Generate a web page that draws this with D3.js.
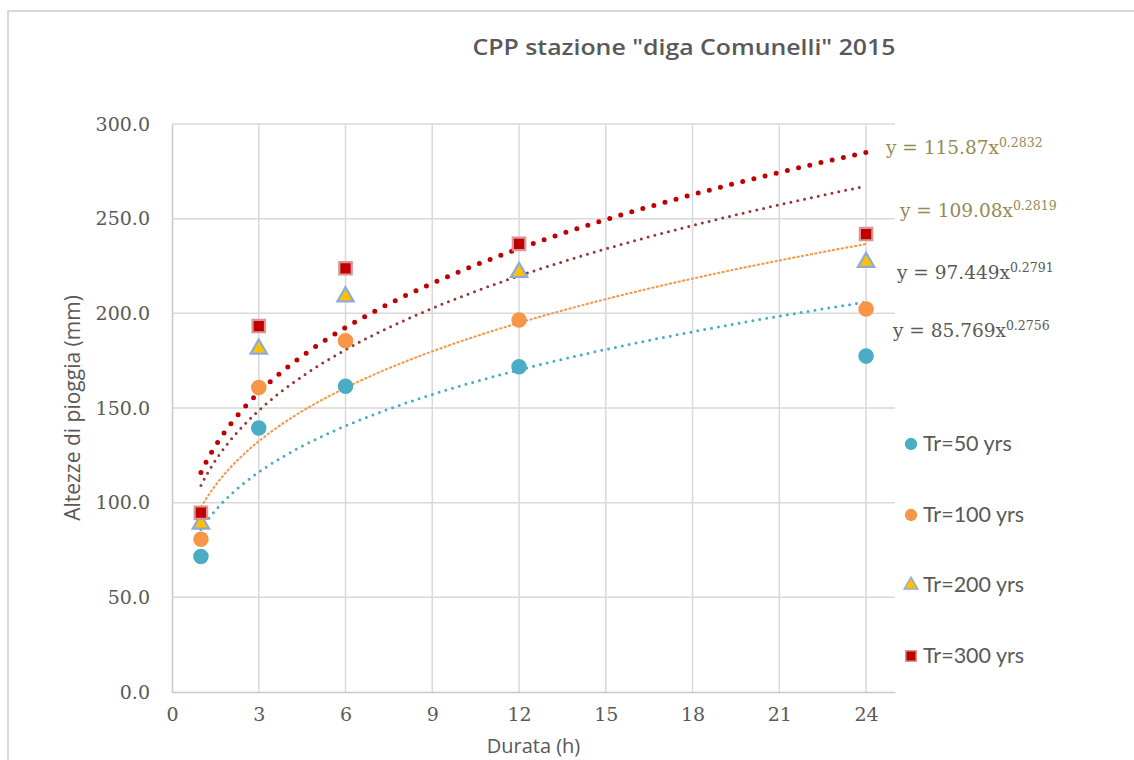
<!DOCTYPE html>
<html>
<head>
<meta charset="utf-8">
<script src="https://cdn.jsdelivr.net/npm/d3@7"></script>
<style>
  html, body { margin: 0; padding: 0; background: #fff; }
  svg { display: block; }
</style>
</head>
<body>
<script>
// durations (hours) and the rainfall heights per return period
var durations = [1, 3, 6, 12, 24];
var tr50  = [71.6, 139.4, 161.5, 171.8, 177.4];
var tr100 = [80.7, 160.8, 185.5, 196.5, 202.3];
var tr200 = [88.8, 181.2, 208.8, 221.7, 227.0];
var tr300 = [94.7, 193.3, 223.8, 236.7, 241.9];

// power trendlines y = a * x^b (from the labels in the chart)
var trendA = [85.769, 97.449, 109.08, 115.87];
var trendB = [0.2756, 0.2791, 0.2819, 0.2832];
var trendLabels = ["85.769", "97.449", "109.08", "115.87"];
var trendExp = ["0.2756", "0.2791", "0.2819", "0.2832"];

var seriesNames = ["Tr=50 yrs", "Tr=100 yrs", "Tr=200 yrs", "Tr=300 yrs"];
var xTicks = [0, 3, 6, 9, 12, 15, 18, 21, 24];
var yTicks = [0, 50, 100, 150, 200, 250, 300];

function run_d3() {
    var width = 1134, height = 760;
    var svg = d3.select("body").append("svg")
        .attr("width", width)
        .attr("height", height);

    // outer chart frame (only top/left visible)
    svg.append("rect")
        .attr("x", 8).attr("y", 11)
        .attr("width", 1140).attr("height", 780)
        .attr("fill", "#fff")
        .attr("stroke", "#d9d9d9")
        .attr("stroke-width", 2);

    var left = 172, right = 895, top = 124, bottom = 692;
    var x = d3.scaleLinear().domain([0, 25]).range([left, right]);
    var y = d3.scaleLinear().domain([0, 300]).range([bottom, top]);

    var grey = "#595959";
    var numFont = "'DejaVu Serif', 'Liberation Serif', serif";
    var sansFont = "'Open Sans', 'Noto Sans', sans-serif";

    // grid
    var grid = svg.append("g");
    grid.selectAll("line.h")
        .data(yTicks.slice(1))
        .enter().append("line")
        .attr("x1", left).attr("x2", right)
        .attr("y1", d => y(d)).attr("y2", d => y(d))
        .attr("stroke", "#d9d9d9").attr("stroke-width", 1.5);
    grid.selectAll("line.v")
        .data(xTicks.slice(1))
        .enter().append("line")
        .attr("x1", d => x(d)).attr("x2", d => x(d))
        .attr("y1", top).attr("y2", bottom)
        .attr("stroke", "#d9d9d9").attr("stroke-width", 1.5);

    // axes
    var yAxis = svg.append("g")
        .attr("transform", "translate(" + left + ",0)")
        .call(d3.axisLeft(y).tickValues(yTicks).tickSize(0).tickPadding(22)
            .tickFormat(d3.format(".1f")));
    var xAxis = svg.append("g")
        .attr("transform", "translate(0," + bottom + ")")
        .call(d3.axisBottom(x).tickValues(xTicks).tickSize(0).tickPadding(16));
    [xAxis, yAxis].forEach(function(a) {
        a.select(".domain").attr("stroke", "#c8c8c8").attr("stroke-width", 1.5);
        a.selectAll("text")
            .attr("fill", grey)
            .style("font-family", numFont)
            .style("font-size", "19px");
    });

    // titles
    svg.append("text")
        .attr("x", 684).attr("y", 55)
        .attr("text-anchor", "middle")
        .attr("fill", grey)
        .attr("textLength", 423)
        .attr("lengthAdjust", "spacingAndGlyphs")
        .style("font-family", sansFont)
        .style("font-weight", "600")
        .style("font-size", "22px")
        .text('CPP stazione "diga Comunelli" 2015');

    svg.append("text")
        .attr("transform", "translate(80," + ((top + bottom) / 2) + ") rotate(-90)")
        .attr("text-anchor", "middle")
        .attr("fill", grey)
        .style("font-family", sansFont)
        .style("font-size", "21px")
        .text("Altezze di pioggia (mm)");

    svg.append("text")
        .attr("x", (left + right) / 2).attr("y", 753)
        .attr("text-anchor", "middle")
        .attr("fill", grey)
        .style("font-family", sansFont)
        .style("font-size", "20px")
        .text("Durata (h)");

    // trendlines
    var trendStyle = [
        { color: "#4bacc6", w: 3, dash: "0 7", cap: "round" },
        { color: "#f79646", w: 2, dash: "3 1.5", cap: "butt" },
        { color: "#953735", w: 3, dash: "0 7", cap: "round" },
        { color: "#c00000", w: 5, dash: "0 11.5", cap: "round" }
    ];
    var line = d3.line().x(d => x(d[0])).y(d => y(d[1])).curve(d3.curveLinear);
    var xs = d3.range(1, 24.001, 0.1);
    trendA.forEach(function(a, i) {
        var pts = xs.map(v => [v, a * Math.pow(v, trendB[i])]);
        svg.append("path")
            .datum(pts)
            .attr("d", line)
            .attr("fill", "none")
            .attr("stroke", trendStyle[i].color)
            .attr("stroke-width", trendStyle[i].w)
            .attr("stroke-dasharray", trendStyle[i].dash)
            .attr("stroke-linecap", trendStyle[i].cap);
    });

    // markers
    var circle = d3.symbol().type(d3.symbolCircle).size(190);
    var tri = d3.symbol().type(d3.symbolTriangle).size(115);
    var sq = d3.symbol().type(d3.symbolSquare).size(155);
    var markers = [
        { vals: tr50, sym: circle, fill: "#4bacc6", stroke: "none" },
        { vals: tr100, sym: circle, fill: "#f79646", stroke: "none" },
        { vals: tr200, sym: tri, fill: "#ffc000", stroke: "#8eaadb" },
        { vals: tr300, sym: sq, fill: "#c00000", stroke: "#d99694" }
    ];
    markers.forEach(function(m) {
        svg.append("g").selectAll("path")
            .data(durations.map((d, i) => [d, m.vals[i]]))
            .enter().append("path")
            .attr("d", m.sym)
            .attr("transform", d => "translate(" + x(d[0]) + "," + y(d[1]) + ")")
            .attr("fill", m.fill)
            .attr("stroke", m.stroke)
            .attr("stroke-width", 2.2);
    });

    // equation labels
    var eqPos = [[893, 337, grey], [897, 279, grey], [900, 217, "#948a54"], [886, 154, "#948a54"]];
    trendLabels.forEach(function(t, i) {
        var txt = svg.append("text")
            .attr("x", eqPos[i][0]).attr("y", eqPos[i][1])
            .attr("fill", eqPos[i][2])
            .style("font-family", numFont)
            .style("font-size", "18.5px");
        txt.append("tspan").text("y = " + t + "x");
        txt.append("tspan")
            .attr("dy", -7)
            .style("font-size", "12.5px")
            .text(trendExp[i]);
    });

    // legend
    var legY = [444, 515, 585, 656];
    var legSym = [
        { sym: d3.symbol().type(d3.symbolCircle).size(120), fill: "#4bacc6", stroke: "none" },
        { sym: d3.symbol().type(d3.symbolCircle).size(120), fill: "#f79646", stroke: "none" },
        { sym: d3.symbol().type(d3.symbolTriangle).size(80), fill: "#ffc000", stroke: "#8eaadb" },
        { sym: d3.symbol().type(d3.symbolSquare).size(110), fill: "#c00000", stroke: "#d99694" }
    ];
    var legend = svg.append("g");
    seriesNames.forEach(function(n, i) {
        legend.append("path")
            .attr("d", legSym[i].sym)
            .attr("transform", "translate(911," + legY[i] + ")")
            .attr("fill", legSym[i].fill)
            .attr("stroke", legSym[i].stroke)
            .attr("stroke-width", 1.5);
        legend.append("text")
            .attr("x", 923).attr("y", legY[i] + 7)
            .attr("fill", grey)
            .style("font-family", "Lato, 'Open Sans', sans-serif")
            .style("font-size", "21.5px")
            .text(n);
    });
}

window.onload = run_d3;
</script>
</body>
</html>
